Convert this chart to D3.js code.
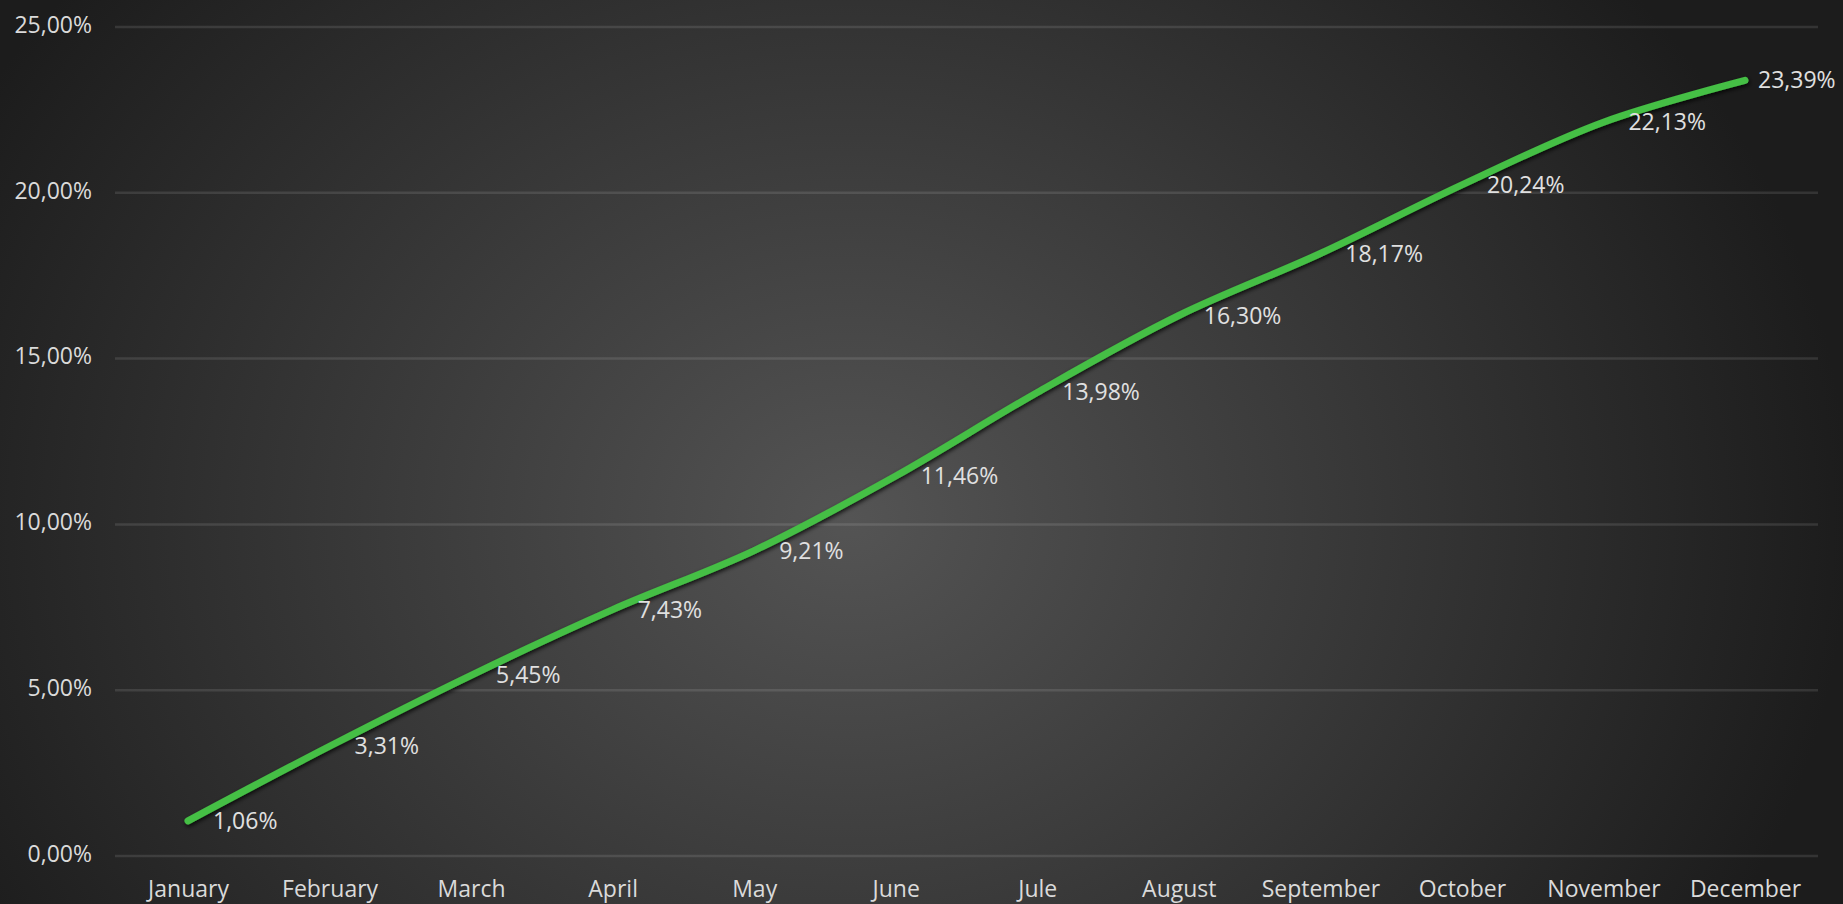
<!DOCTYPE html>
<html>
<head>
<meta charset="utf-8">
<script src="https://cdn.jsdelivr.net/npm/d3@7"></script>
<style>
html,body{margin:0;padding:0;background:#2a2a2a;overflow:hidden;}
svg{display:block;}
text{font-family:"Open Sans",sans-serif;}
</style>
</head>
<body>
<svg id="chart" width="1843" height="904"></svg>
<script>
const months = ["January","February","March","April","May","June","Jule","August","September","October","November","December"];
const values = [1.06, 3.31, 5.45, 7.43, 9.21, 11.46, 13.98, 16.30, 18.17, 20.24, 22.13, 23.39];
const yTicks = [0, 5, 10, 15, 20, 25];

const W = 1843, H = 904;
const svg = d3.select("#chart");
const defs = svg.append("defs");

const grad = defs.append("radialGradient")
  .attr("id","bg").attr("gradientUnits","userSpaceOnUse")
  .attr("cx",850).attr("cy",520).attr("r",1000)
  .attr("gradientTransform","translate(850,520) scale(1,0.85) translate(-850,-520)");
grad.append("stop").attr("offset","0%").attr("stop-color","#545454");
grad.append("stop").attr("offset","45%").attr("stop-color","#3b3b3b");
grad.append("stop").attr("offset","100%").attr("stop-color","#1c1c1c");
svg.append("rect").attr("width",W).attr("height",H).attr("fill","url(#bg)");

const shadow = defs.append("filter").attr("id","shadow")
  .attr("x","-5%").attr("y","-5%").attr("width","110%").attr("height","110%");
shadow.append("feDropShadow").attr("dx",1).attr("dy",2).attr("stdDeviation",2)
  .attr("flood-color","#000").attr("flood-opacity",0.8);

const x = d3.scalePoint().domain(months).range([188, 1745]);
const y = d3.scaleLinear().domain([0, 25]).range([856, 27]);

const fmt = v => d3.format(".2f")(v).replace(".", ",") + "%";

// gridlines
svg.append("g").selectAll("line").data(yTicks).join("line")
  .attr("x1",115).attr("x2",1818)
  .attr("y1",d=>y(d)).attr("y2",d=>y(d))
  .attr("stroke","rgba(255,255,255,0.11)").attr("stroke-width",2.5);

// y axis labels
const yAxis = d3.axisLeft(y).tickValues(yTicks).tickFormat(fmt).tickSize(0).tickPadding(0);
const gy = svg.append("g").attr("transform","translate(92,-2)").call(yAxis);
gy.select(".domain").remove();
gy.selectAll("text").attr("fill","#dadada").attr("font-size",23)
  .attr("font-family","'Open Sans',sans-serif");

// x axis labels
const xAxis = d3.axisBottom(x).tickSize(0).tickPadding(0);
const gx = svg.append("g").attr("transform","translate(0,881)").call(xAxis);
gx.select(".domain").remove();
gx.selectAll("text").attr("fill","#dadada").attr("font-size",23)
  .attr("font-family","'Open Sans',sans-serif");

// line
const data = months.map((m,i)=>({m, v:values[i]}));
const line = d3.line().x(d=>x(d.m)).y(d=>y(d.v)).curve(d3.curveCatmullRom.alpha(0.5));
svg.append("path").datum(data).attr("d",line)
  .attr("fill","none").attr("stroke","#45bf45").attr("stroke-width",7)
  .attr("stroke-linecap","round").attr("filter","url(#shadow)");

// data labels
svg.append("g").selectAll("text").data(data).join("text")
  .attr("x",(d,i)=> x(d.m) + (i === data.length-1 ? 13 : 25))
  .attr("y",d=>y(d.v))
  .attr("dy","0.35em")
  .attr("fill","#e0e0e0").attr("font-size",23)
  .text(d=>fmt(d.v));
</script>
</body>
</html>
